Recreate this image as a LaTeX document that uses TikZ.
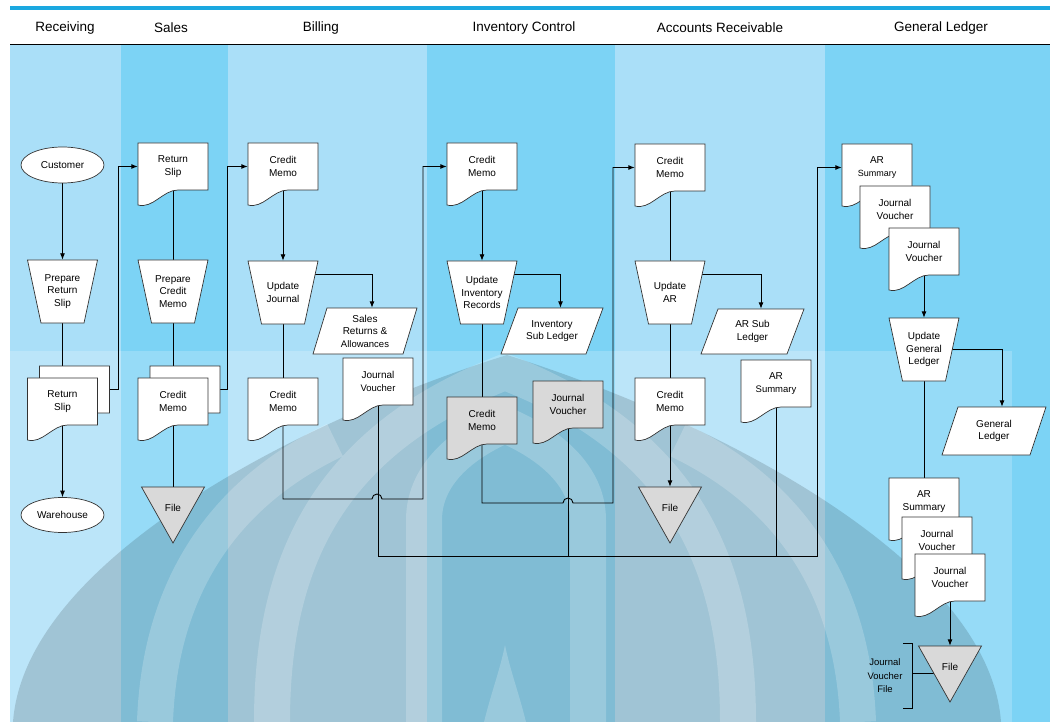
\documentclass[tikz,border=0pt]{standalone}
\usepackage{fontspec}
\setmainfont{Liberation Sans}
\usetikzlibrary{shapes.geometric,arrows.meta}

\pgfdeclarelayer{lanes}
\pgfdeclarelayer{mark}
\pgfdeclarelayer{wires}
\pgfsetlayers{lanes,mark,wires,main}

\definecolor{lanelight}{HTML}{AADFF8}
\definecolor{lanedark}{HTML}{7CD3F5}
\definecolor{topband}{HTML}{1BA8E0}
\definecolor{shade}{HTML}{D9D9D9}

% document symbol: name, left x, top y, fill, text
\newcommand\docsym[5]{%
  \path[shp, fill=#4] (#2,#3) -- (#2+70,#3) -- (#2+70,#3+47) -- (#2+40,#3+47)
    .. controls (#2+25,#3+47) and (#2+15,#3+66) .. (#2,#3+62) -- cycle;
  \node[lbl, minimum width=70pt, minimum height=47pt] (#1) at (#2+35,#3+23.5) {#5};
}
% manual operation: name, centre x, top y, text
\newcommand\manop[4]{%
  \path[shp] (#2-35,#3) -- (#2+35,#3) -- (#2+21.5,#3+63) -- (#2-21.5,#3+63) -- cycle;
  \node[lbl, minimum width=70pt, minimum height=63pt] (#1) at (#2,#3+31.5) {#4};
}
% data (parallelogram): name, bottom-left x, top y, width, slant, height, text
\newcommand\iosym[7]{%
  \path[shp] (#2+#5,#3) -- (#2+#5+#4,#3) -- (#2+#4,#3+#6) -- (#2,#3+#6) -- cycle;
  \node[lbl, minimum width=#4pt, minimum height=#6pt] (#1) at (#2+#5/2+#4/2,#3+#6/2) {#7};
}
% offline file: name, centre x, top y
\newcommand\filesym[3]{%
  \path[shp, fill=shade] (#2-31.5,#3) -- (#2+31.5,#3) -- (#2,#3+56) -- cycle;
  \node[lbl, minimum width=63pt, minimum height=42pt] (#1) at (#2,#3+21) {File};
}

\begin{document}
\begin{tikzpicture}[x=1pt,y=-1pt,
  shp/.style={draw=black!80, line width=0.7pt, fill=white},
  lbl/.style={font=\fontsize{10}{12.5}\selectfont, align=center, inner sep=0pt},
  wire/.style={draw=black, line width=0.9pt},
  arr/.style={wire, -{Latex[length=6.5pt,width=5pt]}},
  head/.style={font=\fontsize{13.5}{16}\selectfont, inner sep=0pt},
  term/.style={shp, ellipse, lbl, minimum width=83pt, minimum height=36pt},
  glow/.style={white, opacity=0.2},
]
\useasboundingbox (0,0) rectangle (1050,722);

% ---------- swim lanes ----------
\begin{pgfonlayer}{lanes}
  \fill[white] (0,0) rectangle (1050,722);
  \fill[topband] (10,6.5) rectangle (1050,10);
  \fill[lanelight] (10,45) rectangle (121,722);
  \fill[lanedark]  (121,45) rectangle (228,722);
  \fill[lanelight] (228,45) rectangle (427,722);
  \fill[lanedark]  (427,45) rectangle (615,722);
  \fill[lanelight] (615,45) rectangle (825,722);
  \fill[lanedark]  (825,45) rectangle (1050,722);
  \fill[white, opacity=0.2] (10,351) rectangle (1012,722);
  \draw[black, line width=1.2pt] (10,44.5) -- (1050,44.5);
\end{pgfonlayer}

% ---------- emblem in the background ----------
\begin{pgfonlayer}{mark}
  \fill[black, opacity=0.14] (13,722) .. controls (25,560) and (300,420) .. (507,355)
    .. controls (714,420) and (989,560) .. (1001,722) -- cycle;
  % outer strokes, open at the top
  \draw[glow, line width=36pt] (155,722) .. controls (160,580) and (230,490) .. (335,440);
  \draw[glow, line width=36pt] (858,722) .. controls (853,580) and (783,490) .. (678,440);
  % middle arch
  \draw[glow, line width=36pt] (272,722) .. controls (272,560) and (330,440) .. (505,372)
    .. controls (680,440) and (738,560) .. (738,722);
  % inner arch
  \draw[glow, line width=36pt] (424,722) -- (424,520) .. controls (424,470) and (470,440) .. (505,425)
    .. controls (540,440) and (588,470) .. (588,520) -- (588,722);
  % central flame
  \fill[glow] (484,722) .. controls (492,690) and (500,670) .. (505,645)
    .. controls (510,670) and (518,690) .. (526,722) -- cycle;
\end{pgfonlayer}

% ---------- lane headings ----------
\node[head] (hRec) at (65,28) {Receiving};
\node[head] (hSal) at (171,28) {Sales};
\node[head] (hBil) at (321,28) {Billing};
\node[head] (hInv) at (524,28) {Inventory Control};
\node[head] (hAR)  at (720,28) {Accounts Receivable};
\node[head] (hGL)  at (941,28) {General Ledger};

% ---------- Receiving ----------
\node[term] (cust) at (62.5,165) {Customer};
\manop{prs}{62.5}{260}{Prepare\\Return\\Slip}
\docsym{rsb}{39.5}{366}{white}{}
\docsym{rsf}{27.5}{378}{white}{Return\\Slip}
\node[term, minimum height=35pt] (wh) at (62.5,515) {Warehouse};

% ---------- Sales ----------
\docsym{rsl}{138}{143}{white}{Return\\Slip}
\manop{pcm}{173}{260}{Prepare\\Credit\\Memo}
\docsym{cmb}{150}{366}{white}{}
\docsym{cmf}{138}{378}{white}{Credit\\Memo}
\filesym{fileS}{173}{487}

% ---------- Billing ----------
\docsym{bcm}{248}{143}{white}{Credit\\Memo}
\manop{uj}{283}{261}{Update\\Journal}
\iosym{sra}{313}{308}{90}{14}{46}{Sales\\Returns \&\\{\fontsize{9.5}{11}\selectfont Allowances}}
\docsym{bcm2}{248}{378}{white}{Credit\\Memo}
\docsym{bjv}{343}{358}{white}{Journal\\{\fontsize{9.5}{11}\selectfont Voucher}}

% ---------- Inventory Control ----------
\docsym{icm}{447}{143}{white}{Credit\\Memo}
\manop{uir}{482}{261}{Update\\Inventory\\Records}
\iosym{isl}{501}{308}{85}{17}{46}{Inventory\\Sub Ledger}
\docsym{icm2}{447}{397}{shade}{Credit\\Memo}
\docsym{ijv}{533}{381}{shade}{Journal\\Voucher}

% ---------- Accounts Receivable ----------
\docsym{arcm}{635}{144}{white}{Credit\\Memo}
\manop{uar}{670}{261}{Update\\AR}
\iosym{arsl}{701}{309}{86}{17}{45}{AR Sub\\Ledger}
\docsym{arcm2}{635}{378}{white}{Credit\\Memo}
\docsym{ars}{741}{360}{white}{AR\\{\fontsize{9.5}{11}\selectfont Summary}}
\filesym{fileA}{670}{487}

% ---------- General Ledger ----------
\docsym{gars}{842}{144}{white}{AR\\{\fontsize{9}{11}\selectfont Summary}}
\docsym{gjv1}{860}{186}{white}{Journal\\Voucher}
\docsym{gjv2}{889}{228}{white}{Journal\\Voucher}
\manop{ugl}{924}{318}{Update\\General\\Ledger}
\iosym{gl}{942}{407}{88}{16}{48}{General\\Ledger}
\docsym{gars2}{889}{478}{white}{AR\\Summary}
\docsym{gjv3}{902}{517}{white}{Journal\\Voucher}
\docsym{gjv4}{915}{554}{white}{Journal\\Voucher}
\filesym{fileG}{950}{646}
\node[lbl, font=\fontsize{9.5}{13.5}\selectfont] (jvf) at (885,676) {Journal\\Voucher\\File};

% ---------- flow lines ----------
\begin{pgfonlayer}{wires}
  % Receiving
  \draw[arr] (cust.south) -- (prs.north);
  \draw[wire] (prs.south) -- (rsf.north);
  \draw[arr] (rsf.south) -- (wh.north);
  \draw[arr] (rsb.east) -- ++(9,0) |- (rsl.west);
  % Sales
  \draw[wire] (rsl.south) -- (pcm.north);
  \draw[wire] (pcm.south) -- (cmf.north);
  \draw[wire] (cmf.south) -- (fileS.north);
  \draw[arr] (cmb.east) -- ++(7,0) |- (bcm.west);
  % Billing
  \draw[arr] (bcm.south) -- (uj.north);
  \draw[arr] ([yshift=-14pt]uj.north) -| ([xshift=7pt]sra.north);
  \draw[wire] (uj.south) -- (bcm2.north);
  \draw[arr] (bcm2.south) |- (372,499) arc[start angle=180, end angle=360, radius=5]
    -- (423,499) |- (icm.west);
  \draw[arr] (bjv.south) |- (817,556) |- (gars.west);
  % Inventory Control
  \draw[arr] (icm.south) -- (uir.north);
  \draw[arr] ([yshift=-14pt]uir.north) -| ([xshift=8.5pt]isl.north);
  \draw[wire] (uir.south) -- (icm2.north);
  \draw[arr] (icm2.south) |- (563,503) arc[start angle=180, end angle=360, radius=5]
    -- (613,503) |- (arcm.west);
  \draw[wire] (ijv.south) -- (ijv.south |- 0,556);
  % Accounts Receivable
  \draw[wire] (arcm.south) -- (uar.north);
  \draw[arr] ([yshift=-14pt]uar.north) -| ([xshift=8.5pt]arsl.north);
  \draw[wire] (uar.south) -- (arcm2.north);
  \draw[arr] (arcm2.south) -- (fileA.north);
  \draw[wire] (ars.south) -- (ars.south |- 0,556);
  % General Ledger
  \draw[arr] (gjv2.south) -- (ugl.north);
  \draw[arr] ([yshift=-32pt]ugl.north) -| ([xshift=8pt]gl.north);
  \draw[wire] (ugl.south) -- (gars2.north);
  \draw[arr] (gjv4.south) -- (fileG.north);
  \draw[wire] (903,643) -- (912,643) -- (912,708) -- (903,708);
  \draw[wire] (912,673) -- (fileG.center |- 0,673);
\end{pgfonlayer}
\end{tikzpicture}
\end{document}
